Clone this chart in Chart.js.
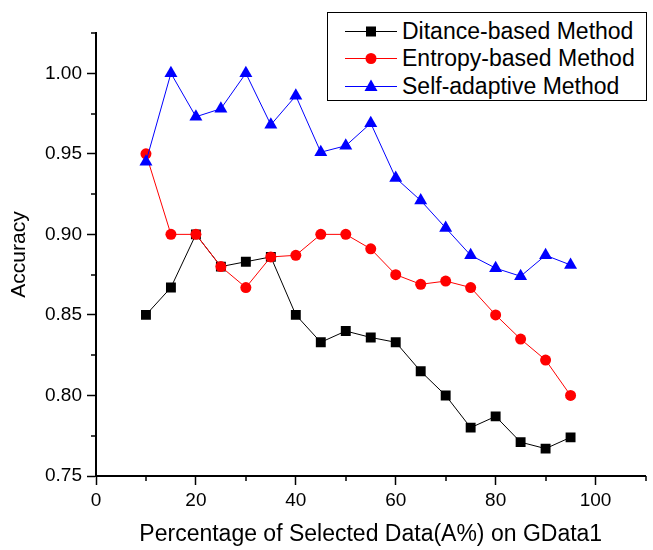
<!DOCTYPE html>
<html>
<head>
<meta charset="utf-8">
<script src="https://cdn.jsdelivr.net/npm/chart.js@4"></script>
<style>
  html, body { margin: 0; padding: 0; background: #fff; }
  #wrap { position: relative; width: 653px; height: 550px; }
  #legend { position: absolute; left: 327px; top: 12px; width: 318px; height: 87px;
    border: 1px solid #000; background: #fff; font-family: "Liberation Sans", Arial, sans-serif; font-size: 23px; color: #000; }
  .row { position: absolute; left: 0; height: 28px; display: flex; align-items: center; }
  .row svg { margin-left: 17px; margin-right: 5px; }
</style>
</head>
<body>
<div id="wrap">
  <canvas id="c" width="653" height="550"></canvas>
  <div id="legend"></div>
</div>
<script>
const xValues = [10, 15, 20, 25, 30, 35, 40, 45, 50, 55, 60, 65, 70, 75, 80, 85, 90, 95];
const distanceBased = [0.850, 0.867, 0.900, 0.880, 0.883, 0.886, 0.850, 0.833, 0.840, 0.836, 0.833, 0.815, 0.800, 0.780, 0.787, 0.771, 0.767, 0.774];
const entropyBased = [0.950, 0.900, 0.900, 0.880, 0.867, 0.886, 0.887, 0.900, 0.900, 0.891, 0.875, 0.869, 0.871, 0.867, 0.850, 0.835, 0.822, 0.800];
const selfAdaptive = [0.945, 1.000, 0.973, 0.978, 1.000, 0.968, 0.986, 0.951, 0.955, 0.969, 0.935, 0.921, 0.904, 0.887, 0.879, 0.874, 0.887, 0.881];
const seriesNames = ["Ditance-based Method", "Entropy-based Method", "Self-adaptive Method"];
const xTicks = [0, 20, 40, 60, 80, 100];
const yTicks = [0.75, 0.80, 0.85, 0.90, 0.95, 1.00];
const xMinorTicks = [10, 30, 50, 70, 90, 110];
const yMinorTicks = [0.775, 0.825, 0.875, 0.925, 0.975, 1.025];

const FONT = "'Liberation Sans', Arial, sans-serif";
const colors = ["#000000", "#ff0000", "#0000ff"];
const styles = ["rect", "circle", "triangle"];
const radii = [7, 5.5, 7.5];
const allData = [distanceBased, entropyBased, selfAdaptive];

const datasets = allData.map((arr, i) => ({
  label: seriesNames[i],
  data: xValues.map((x, j) => ({ x: x, y: arr[j] })),
  borderColor: colors[i],
  backgroundColor: colors[i],
  borderWidth: 1,
  pointStyle: styles[i],
  pointRadius: radii[i],
  pointBorderWidth: 0,
  pointBackgroundColor: colors[i],
  tension: 0,
  order: 3 - i
}));

const minorTicks = {
  id: 'minorTicks',
  afterDraw(chart) {
    const ctx = chart.ctx;
    const xs = chart.scales.x, ys = chart.scales.y;
    ctx.save();
    ctx.strokeStyle = '#000';
    ctx.lineWidth = 1.5;
    ctx.beginPath();
    xMinorTicks.forEach(v => {
      const px = Math.round(xs.getPixelForValue(v));
      ctx.moveTo(px, ys.bottom);
      ctx.lineTo(px, ys.bottom + 5);
    });
    yMinorTicks.forEach(v => {
      const py = Math.round(ys.getPixelForValue(v));
      ctx.moveTo(xs.left, py);
      ctx.lineTo(xs.left - 5, py);
    });
    ctx.stroke();
    ctx.restore();
  }
};

new Chart(document.getElementById('c'), {
  type: 'line',
  data: { datasets: datasets },
  options: {
    responsive: false,
    animation: false,
    layout: { padding: { top: 33, right: 2, left: 0, bottom: 0 } },
    plugins: { legend: { display: false }, tooltip: { enabled: false } },
    scales: {
      x: {
        type: 'linear', min: 0, max: 110,
        ticks: { stepSize: 20, color: '#000', font: { family: FONT, size: 19 }, padding: 4, maxRotation: 0 },
        afterBuildTicks: s => { s.ticks = xTicks.map(v => ({ value: v })); },
        afterFit: s => { s.height = 74; },
        grid: { drawOnChartArea: false, drawTicks: true, tickLength: 9, tickWidth: 1.5, tickColor: '#000' },
        border: { display: true, color: '#000', width: 2 },
        title: { display: true, text: 'Percentage of Selected Data(A%) on GData1', color: '#000',
          font: { family: FONT, size: 23 }, padding: { top: 0, bottom: 2 } }
      },
      y: {
        type: 'linear', min: 0.75, max: 1.025,
        ticks: { stepSize: 0.05, color: '#000', font: { family: FONT, size: 19 }, padding: 5,
          callback: v => Number(v).toFixed(2) },
        afterBuildTicks: s => { s.ticks = yTicks.map(v => ({ value: v })); },
        afterFit: s => { s.width = 96; },
        grid: { drawOnChartArea: false, drawTicks: true, tickLength: 9, tickWidth: 1.5, tickColor: '#000' },
        border: { display: true, color: '#000', width: 2 },
        title: { display: true, text: 'Accuracy', color: '#000',
          font: { family: FONT, size: 21 }, padding: { top: 7, bottom: 0 } }
      }
    }
  },
  plugins: [minorTicks]
});

// HTML legend
const legend = document.getElementById('legend');
const rowTops = [4, 31, 59];
seriesNames.forEach((name, i) => {
  const row = document.createElement('div');
  row.className = 'row';
  row.style.top = rowTops[i] + 'px';
  let marker = '';
  if (i === 0) marker = '<rect x="21" y="4.5" width="10" height="10" fill="#000"/>';
  if (i === 1) marker = '<circle cx="26" cy="9.5" r="5.5" fill="#ff0000"/>';
  if (i === 2) marker = '<polygon points="26,2.5 32.5,14 19.5,14" fill="#0000ff"/>';
  row.innerHTML = '<svg width="52" height="19"><line x1="0" y1="9.5" x2="52" y2="9.5" stroke="' + colors[i] + '" stroke-width="1"/>' + marker + '</svg><span>' + name + '</span>';
  legend.appendChild(row);
});
</script>
</body>
</html>
